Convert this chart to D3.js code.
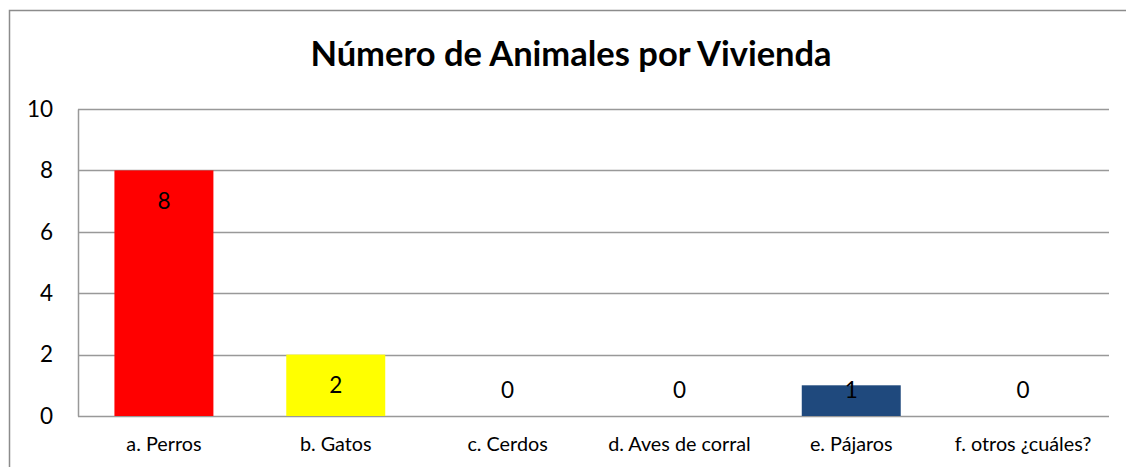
<!DOCTYPE html>
<html>
<head>
<meta charset="utf-8">
<script src="https://cdn.jsdelivr.net/npm/d3@7"></script>
<style>
  html, body { margin: 0; padding: 0; background: #fff; }
  svg { display: block; }
  text { font-family: Lato, "Noto Sans", sans-serif; fill: #000; }
</style>
</head>
<body>
<script>
// Chart data
const categories = ["a. Perros", "b. Gatos", "c. Cerdos", "d. Aves de corral", "e. Pájaros", "f. otros ¿cuáles?"];
const counts = [8, 2, 0, 0, 1, 0];
const barColors = ["#FF0000", "#FFFF00", "#1F497D", "#1F497D", "#1F497D", "#1F497D"];
const yTicks = [0, 2, 4, 6, 8, 10];
const title = "Número de Animales por Vivienda";

const width = 1126, height = 467;
const plot = { left: 78, right: 1109, top: 109, bottom: 416 };

const svg = d3.select("body").append("svg")
  .attr("width", width).attr("height", height);

// Outer chart frame
svg.append("rect")
  .attr("x", 9.5).attr("y", 10.5)
  .attr("width", 1130).attr("height", 470)
  .attr("fill", "none").attr("stroke", "#8c8c8c").attr("stroke-width", 1.5);

const x = d3.scaleBand()
  .domain(categories)
  .range([plot.left, plot.right])
  .paddingInner(0.424)
  .paddingOuter(0.212);

const y = d3.scaleLinear()
  .domain([0, 10])
  .range([plot.bottom, plot.top]);

// Horizontal gridlines
svg.append("g")
  .selectAll("line")
  .data(yTicks)
  .join("line")
  .attr("x1", plot.left).attr("x2", plot.right)
  .attr("y1", d => Math.round(y(d)) + 0.5).attr("y2", d => Math.round(y(d)) + 0.5)
  .attr("stroke", "#999").attr("stroke-width", 1.5);

// Y axis line and tick labels
const yAxis = svg.append("g")
  .attr("transform", `translate(${plot.left},0)`)
  .call(d3.axisLeft(y).tickValues(yTicks).tickSize(0).tickPadding(25));
yAxis.select(".domain").attr("stroke", "#999").attr("stroke-width", 1.5);
yAxis.selectAll("text")
  .style("font-family", "Lato, 'Noto Sans', sans-serif")
  .attr("font-size", 22.5)
  .attr("fill", "#000");

// Bars
svg.append("g")
  .selectAll("rect")
  .data(categories)
  .join("rect")
  .attr("x", d => x(d))
  .attr("width", x.bandwidth())
  .attr("y", (d, i) => y(counts[i]))
  .attr("height", (d, i) => y(0) - y(counts[i]))
  .attr("fill", (d, i) => barColors[i]);

// Value labels, inside the bar top, kept above the baseline for short bars
svg.append("g")
  .selectAll("text")
  .data(categories)
  .join("text")
  .attr("x", d => x(d) + x.bandwidth() / 2)
  .attr("y", (d, i) => Math.min(y(counts[i]) + 31, y(0) - 26))
  .attr("dy", "0.35em")
  .attr("text-anchor", "middle")
  .attr("font-size", 22.5)
  .text((d, i) => counts[i]);

// Category labels
const xAxis = svg.append("g")
  .attr("transform", `translate(0,${plot.bottom})`)
  .call(d3.axisBottom(x).tickSize(0).tickPadding(21));
xAxis.select(".domain").remove();
xAxis.selectAll("text")
  .style("font-family", "Lato, 'Noto Sans', sans-serif")
  .attr("font-size", 19.8)
  .attr("fill", "#000");

// Title
svg.append("text")
  .attr("x", 571).attr("y", 66)
  .attr("text-anchor", "middle")
  .attr("font-size", 34.5)
  .attr("font-weight", "bold")
  .text(title);
</script>
</body>
</html>
